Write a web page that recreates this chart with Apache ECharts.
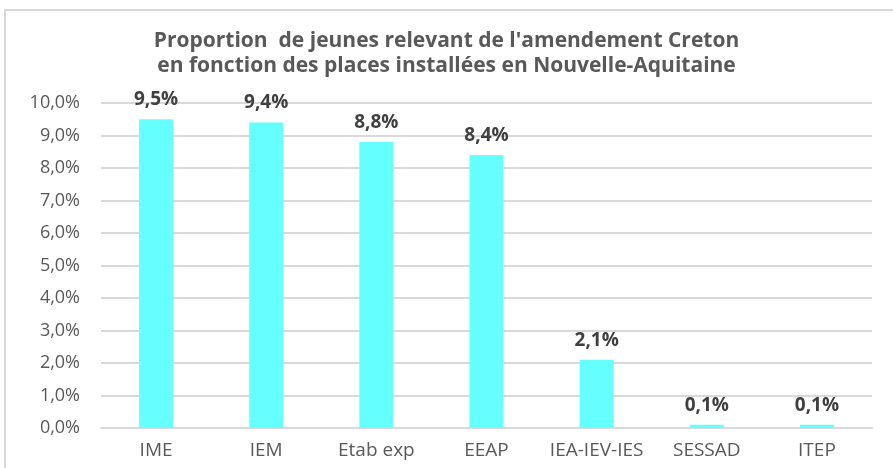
<!DOCTYPE html>
<html>
<head>
<meta charset="utf-8">
<script src="https://cdn.jsdelivr.net/npm/echarts@6/dist/echarts.min.js"></script>
<style>
    html, body {margin: 0; padding: 0; background: #fff;}
    #container {width: 893px; height: 468px;}
</style>
</head>
<body>
<div id="container"></div>
<script>
// catégories et valeurs (%)
let categories = ['IME', 'IEM', 'Etab exp', 'EEAP', 'IEA-IEV-IES', 'SESSAD', 'ITEP'];
let proportions = [9.5, 9.4, 8.8, 8.4, 2.1, 0.1, 0.1];

let fmt = function (v) {
    return v.toFixed(1).replace('.', ',') + '%';
};

let dom = document.getElementById("container");
let myChart = echarts.init(dom);
let option = {
    textStyle: {
        fontFamily: 'Open Sans'
    },
    title: {
        text: "Proportion  de jeunes relevant de l'amendement Creton\nen fonction des places installées en Nouvelle-Aquitaine",
        left: 'center',
        top: 24,
        textStyle: {
            color: '#595959',
            fontSize: 21,
            fontWeight: 'bold',
            lineHeight: 25,
            fontFamily: 'Open Sans'
        }
    },
    graphic: [
        {
            type: 'rect',
            shape: {x: 5, y: 10, width: 900, height: 470},
            style: {fill: 'none', stroke: '#d9d9d9', lineWidth: 2},
            silent: true
        }
    ],
    grid: {
        left: 101,
        right: 21,
        top: 103,
        bottom: 40
    },
    xAxis: {
        type: 'category',
        data: categories,
        axisLine: {lineStyle: {color: '#d9d9d9', width: 2}},
        axisTick: {show: false},
        axisLabel: {
            interval: 0,
            hideOverlap: false,
            color: '#595959',
            fontSize: 19,
            margin: 13
        }
    },
    yAxis: {
        type: 'value',
        min: 0,
        max: 10,
        interval: 1,
        axisLine: {show: false},
        axisTick: {show: false},
        splitLine: {lineStyle: {color: '#d9d9d9', width: 2}},
        axisLabel: {
            color: '#595959',
            fontSize: 18,
            margin: 21,
            formatter: fmt
        }
    },
    series: [
        {
            type: 'bar',
            data: proportions,
            barWidth: 34,
            itemStyle: {color: '#66ffff'},
            label: {
                show: true,
                position: 'top',
                distance: 10,
                color: '#404040',
                fontSize: 19,
                fontWeight: 'bold',
                formatter: function (p) {
                    return fmt(p.value);
                }
            }
        }
    ]
};
myChart.setOption(option, true);
</script>
</body>
</html>
